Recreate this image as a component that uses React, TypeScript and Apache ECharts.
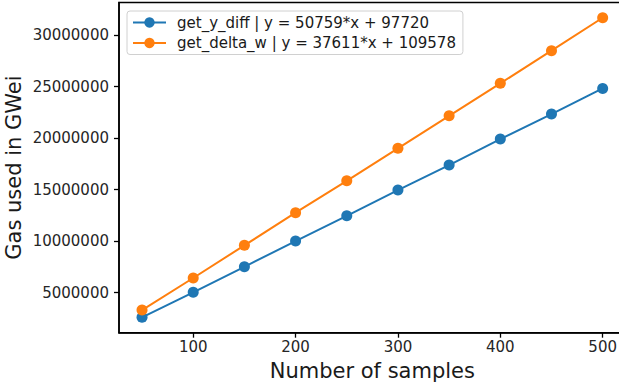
import React, { useEffect, useRef } from "react";
import * as echarts from "echarts";

const samples = [50, 100, 150, 200, 250, 300, 350, 400, 450, 500];
const yDiffGas = [2610000, 5040000, 7520000, 10020000, 12470000, 14970000, 17400000, 19920000, 22350000, 24840000];
const deltaWGas = [3320000, 6430000, 9600000, 12770000, 15870000, 19020000, 22180000, 25330000, 28500000, 31700000];
const xTicks = [100, 200, 300, 400, 500];
const yTicks = [5000000, 10000000, 15000000, 20000000, 25000000, 30000000];
const seriesNames = ["get_y_diff | y = 50759*x + 97720", "get_delta_w | y = 37611*x + 109578"];

const FONT = "DejaVu Sans";

export default function App() {
  const ref = useRef<HTMLDivElement>(null);
  useEffect(() => {
    document.body.style.margin = "0";
    document.body.style.overflow = "hidden";
    const chart = echarts.init(ref.current!, null, { renderer: "svg" });
    const axisCommon = {
      axisLine: { show: true, lineStyle: { color: "#000", width: 1.5 } },
      splitLine: { show: false },
    };
    chart.setOption({
      animation: false,
      backgroundColor: "#fff",
      grid: {
        left: 119,
        top: 2.5,
        right: -6.7,
        bottom: 55.3,
        show: true,
        borderColor: "#000",
        borderWidth: 1.5,
        containLabel: false,
        outerBoundsMode: "none",
      },
      legend: {
        orient: "vertical",
        left: 127,
        top: 11,
        padding: [4, 7, 4, 5],
        itemGap: 5.5,
        itemWidth: 33,
        itemHeight: 13,
        borderColor: "#d0d0d0",
        borderWidth: 1,
        borderRadius: 3,
        backgroundColor: "#fff",
        textStyle: { fontFamily: FONT, fontSize: 15, color: "#1a1a1a", padding: [0, 0, 0, 6] },
        data: seriesNames,
      },
      xAxis: {
        type: "value",
        min: 27.5,
        max: 522.5,
        ...axisCommon,
        axisTick: { show: true, length: 5, lineStyle: { color: "#000", width: 1.3 }, customValues: xTicks },
        axisLabel: {
          customValues: xTicks,
          fontFamily: FONT,
          fontSize: 15,
          color: "#262626",
          margin: 7,
          formatter: (v: number) => String(v),
        },
        name: "Number of samples",
        nameLocation: "middle",
        nameGap: 28,
        nameMoveOverlap: false,
        nameTextStyle: { fontFamily: FONT, fontSize: 21, color: "#1a1a1a" },
      },
      yAxis: {
        type: "value",
        min: 1120000,
        max: 33180000,
        ...axisCommon,
        axisTick: { show: true, length: 5, lineStyle: { color: "#000", width: 1.3 }, customValues: yTicks },
        axisLabel: {
          customValues: yTicks,
          fontFamily: FONT,
          fontSize: 15,
          color: "#262626",
          margin: 10,
          formatter: (v: number) => String(v),
        },
        name: "Gas used in GWei",
        nameLocation: "middle",
        nameGap: 95,
        nameMoveOverlap: false,
        nameTextStyle: { fontFamily: FONT, fontSize: 21, color: "#1a1a1a" },
      },
      series: [
        {
          name: seriesNames[0],
          type: "line",
          data: samples.map((x, i) => [x, yDiffGas[i]]),
          symbol: "circle",
          symbolSize: 11,
          itemStyle: { color: "#1f77b4" },
          lineStyle: { color: "#1f77b4", width: 2 },
          z: 2,
        },
        {
          name: seriesNames[1],
          type: "line",
          data: samples.map((x, i) => [x, deltaWGas[i]]),
          symbol: "circle",
          symbolSize: 11,
          itemStyle: { color: "#ff7f0e" },
          lineStyle: { color: "#ff7f0e", width: 2 },
          z: 3,
        },
      ],
    });
    return () => chart.dispose();
  }, []);
  return <div ref={ref} style={{ position: "absolute", left: 0, top: 0, width: 619, height: 388 }} />;
}
